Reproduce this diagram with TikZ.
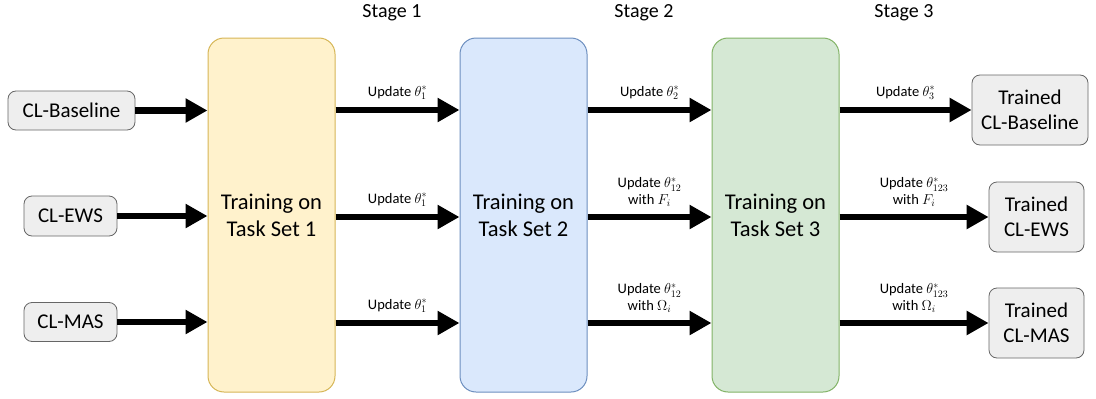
\documentclass[tikz,border=0pt]{standalone}
\usepackage{fontspec}
\setmainfont{Carlito}
\usetikzlibrary{arrows.meta}
\definecolor{ylwfill}{HTML}{FFF2CC}
\definecolor{ylwline}{HTML}{D6B656}
\definecolor{bluefill}{HTML}{DAE8FC}
\definecolor{blueline}{HTML}{6C8EBF}
\definecolor{grnfill}{HTML}{D5E8D4}
\definecolor{grnline}{HTML}{82B366}
\definecolor{boxfill}{HTML}{EEEEEE}
\definecolor{boxline}{HTML}{666666}
\begin{document}
\begin{tikzpicture}[x=1pt,y=-1pt,
  stagebox/.style={draw, rounded corners=16pt, line width=1pt, minimum width=127pt, minimum height=354pt, align=center, font=\fontsize{22.5}{27}\selectfont},
  modelbox/.style={draw=boxline, fill=boxfill, rounded corners=8pt, line width=0.8pt, align=center, inner sep=0pt, font=\fontsize{21}{25}\selectfont},
  fat/.style={line width=6.5pt, -{Triangle[length=22pt,width=23pt]}},
  upd/.style={font=\fontsize{14.5}{17}\selectfont, align=center, anchor=south, inner sep=1pt},
  stagelbl/.style={font=\fontsize{20}{24}\selectfont}]
\useasboundingbox (0,0) rectangle (1096,399);

\node (s1) at (271.5,215) [stagebox, fill=ylwfill, draw=ylwline] {Training on\\Task Set 1};
\node (s2) at (523.5,215) [stagebox, fill=bluefill, draw=blueline] {Training on\\Task Set 2};
\node (s3) at (775.5,215) [stagebox, fill=grnfill, draw=grnline] {Training on\\Task Set 3};

\node (l1) at (392,13) [stagelbl] {Stage 1};
\node (l2) at (644,13) [stagelbl] {Stage 2};
\node (l3) at (904,13) [stagelbl] {Stage 3};

\node (base) at (71.5,110.5) [modelbox, minimum width=127pt, minimum height=39pt] {CL-Baseline};
\node (ews) at (70.5,216) [modelbox, minimum width=93pt, minimum height=40pt] {CL-EWS};
\node (mas) at (70.5,322) [modelbox, minimum width=93pt, minimum height=39pt] {CL-MAS};

\node (tbase) at (1030,110) [modelbox, minimum width=116pt, minimum height=70pt] {Trained\\CL-Baseline};
\node (tews) at (1036.5,217) [modelbox, minimum width=95pt, minimum height=70pt] {Trained\\CL-EWS};
\node (tmas) at (1036.5,323) [modelbox, minimum width=95pt, minimum height=70pt] {Trained\\CL-MAS};

% inputs
\draw[fat] (base.east) -- (s1.west |- base);
\draw[fat] (ews.east) -- (s1.west |- ews);
\draw[fat] (mas.east) -- (s1.west |- mas);

% stage 1 -> stage 2
\draw[fat] (s1.east |- tbase) -- node[upd, yshift=6pt] {Update $\theta_1^*$} (s2.west |- tbase);
\draw[fat] (s1.east |- tews) -- node[upd, yshift=6pt] {Update $\theta_1^*$} (s2.west |- tews);
\draw[fat] (s1.east |- tmas) -- node[upd, yshift=6pt] {Update $\theta_1^*$} (s2.west |- tmas);

% stage 2 -> stage 3
\draw[fat] (s2.east |- tbase) -- node[upd, yshift=6pt] {Update $\theta_2^*$} (s3.west |- tbase);
\draw[fat] (s2.east |- tews) -- node[upd, yshift=6pt] {Update $\theta_{12}^*$\\with $F_i$} (s3.west |- tews);
\draw[fat] (s2.east |- tmas) -- node[upd, yshift=6pt] {Update $\theta_{12}^*$\\with $\Omega_i$} (s3.west |- tmas);

% stage 3 -> trained
\draw[fat] (s3.east |- tbase) -- node[upd, yshift=6pt] {Update $\theta_3^*$} (tbase.west);
\draw[fat] (s3.east |- tews) -- node[upd, yshift=6pt] {Update $\theta_{123}^*$\\with $F_i$} (tews.west);
\draw[fat] (s3.east |- tmas) -- node[upd, yshift=6pt] {Update $\theta_{123}^*$\\with $\Omega_i$} (tmas.west);
\end{tikzpicture}
\end{document}
